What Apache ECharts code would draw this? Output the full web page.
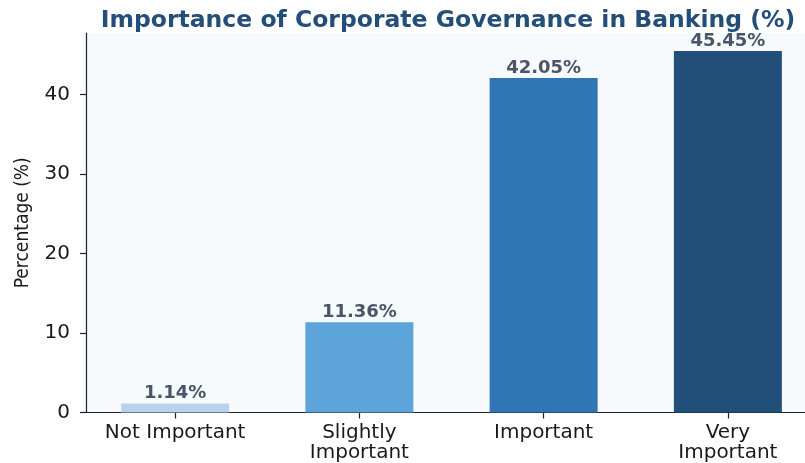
<!DOCTYPE html>
<html>
<head>
<meta charset="utf-8">
<script src="https://cdn.jsdelivr.net/npm/echarts@6/dist/echarts.min.js"></script>
<style>
  html, body { margin: 0; padding: 0; background: #ffffff; overflow: hidden; }
  /* the plot runs slightly past the right edge of the window */
  #chart { width: 820px; height: 463px; }
</style>
</head>
<body>
<div id="chart"></div>
<script>
// Survey responses: how important corporate governance is in banking
const categories = ['Not Important', 'Slightly\nImportant', 'Important', 'Very\nImportant'];
const percentages = [1.14, 11.36, 42.05, 45.45];
const barColors = ['#b9d3ec', '#5ca4da', '#2f76b6', '#224f7a'];
const yTicks = [0, 10, 20, 30, 40];

const chart = echarts.init(document.getElementById('chart'), null, { renderer: 'canvas' });

// headroom of 5% above the tallest bar
const yMax = Math.max(...percentages) * 1.05;

chart.setOption({
  animation: false,
  backgroundColor: '#ffffff',
  title: {
    text: 'Importance of Corporate Governance in Banking (%)',
    left: 443,
    textAlign: 'center',
    top: 4,
    textStyle: {
      fontFamily: 'DejaVu Sans',
      fontWeight: 'bold',
      fontSize: 23.5,
      color: '#234e79'
    }
  },
  grid: {
    left: 83,
    top: 33,
    right: 0,
    bottom: 50.5,
    show: true,
    backgroundColor: '#f7fafd',
    borderWidth: 0
  },
  xAxis: {
    type: 'category',
    data: categories,
    axisLine: { show: true, lineStyle: { color: '#222222', width: 1.2 } },
    axisTick: { show: true, alignWithLabel: true, length: 6, lineStyle: { color: '#222222', width: 1.2 } },
    axisLabel: {
      interval: 0,
      fontFamily: 'DejaVu Sans',
      fontSize: 20,
      color: '#1a1a1a',
      lineHeight: 20,
      margin: 10
    }
  },
  yAxis: {
    type: 'value',
    min: 0,
    max: yMax,
    interval: 10,
    offset: -3,
    name: 'Percentage (%)',
    nameLocation: 'middle',
    nameGap: 53,
    nameRotate: 90,
    nameTextStyle: {
      fontFamily: 'Liberation Sans Narrow, DejaVu Sans Condensed, sans-serif',
      fontSize: 19,
      color: '#1a1a1a'
    },
    axisLine: { show: true, lineStyle: { color: '#222222', width: 1.2 } },
    axisTick: { show: true, length: 6, customValues: yTicks, lineStyle: { color: '#222222', width: 1.2 } },
    axisLabel: {
      fontFamily: 'DejaVu Sans',
      fontSize: 20,
      color: '#1a1a1a',
      margin: 16,
      customValues: yTicks
    },
    splitLine: { show: false }
  },
  series: [{
    type: 'bar',
    barWidth: 108,
    data: percentages.map(function (v, i) {
      return { value: v, itemStyle: { color: barColors[i] } };
    }),
    label: {
      show: true,
      position: 'top',
      distance: 1,
      fontFamily: 'DejaVu Sans',
      fontWeight: 'bold',
      fontSize: 18,
      color: '#4a5568',
      formatter: function (p) { return p.value.toFixed(2) + '%'; }
    }
  }]
});
</script>
</body>
</html>
